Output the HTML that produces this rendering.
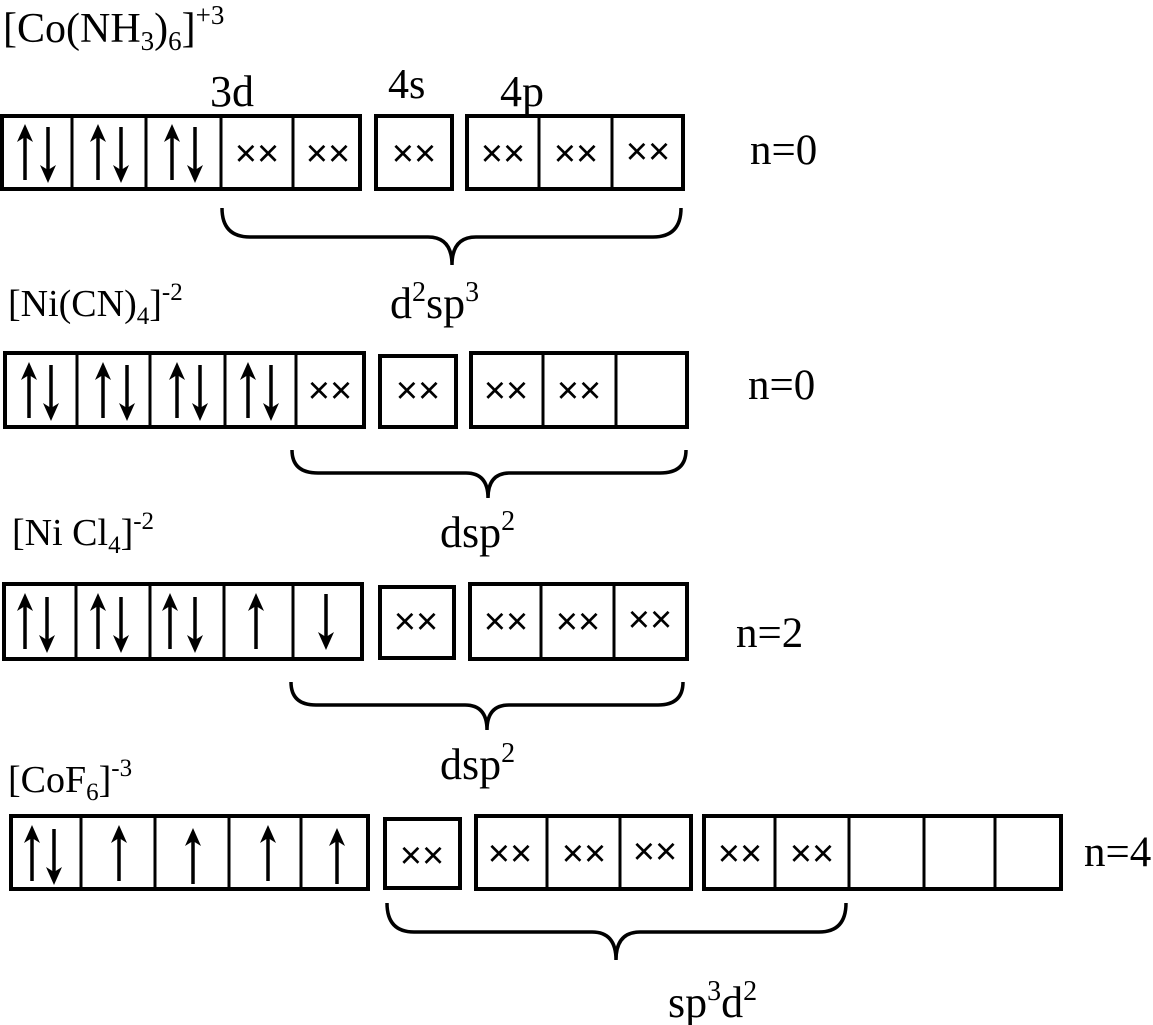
<!DOCTYPE html>
<html><head><meta charset="utf-8"><style>
html,body{margin:0;padding:0;background:#fff}
svg{display:block}
text{font-family:"Liberation Serif",serif;fill:#000}
.x{font-family:"Liberation Sans",sans-serif;font-size:38px;text-anchor:middle;dominant-baseline:central}
.b{fill:none;stroke:#000;stroke-width:4}
.d{stroke:#000;stroke-width:3}
.a{fill:none;stroke:#000;stroke-width:3.5}
.h{fill:#000;stroke:none}
.br{fill:none;stroke:#000;stroke-width:3.5}
</style></head><body>
<svg width="1153" height="1025" viewBox="0 0 1153 1025" xmlns="http://www.w3.org/2000/svg">
<defs>
<g id="up"><line x1="0" y1="56" x2="0" y2="8" class="a"/><polygon points="0,0 -8,18 0,13 8,18" class="h"/></g>
<g id="dn"><line x1="0" y1="0" x2="0" y2="48" class="a"/><polygon points="0,56 -8,38 0,43 8,38" class="h"/></g>
</defs>

<!-- Row 1 -->
<text x="3" y="42" font-size="42">[Co(NH<tspan font-size="27" dy="8">3</tspan><tspan dy="-8">)</tspan><tspan font-size="27" dy="8">6</tspan><tspan dy="-8">]</tspan><tspan font-size="27" dy="-18">+3</tspan></text>
<text x="210" y="106" font-size="44">3d</text>
<text x="388" y="98" font-size="42">4s</text>
<text x="500" y="106" font-size="44">4p</text>
<rect x="2" y="116" width="358" height="73" class="b"/>
<line x1="72" y1="116" x2="72" y2="189" class="d"/><line x1="146" y1="116" x2="146" y2="189" class="d"/><line x1="221" y1="116" x2="221" y2="189" class="d"/><line x1="293" y1="116" x2="293" y2="189" class="d"/>
<rect x="376" y="116" width="76" height="73" class="b"/>
<rect x="467" y="116" width="216" height="73" class="b"/>
<line x1="539" y1="116" x2="539" y2="189" class="d"/><line x1="612" y1="116" x2="612" y2="189" class="d"/>
<use href="#up" x="25" y="124"/><use href="#dn" x="48" y="127"/>
<use href="#up" x="98" y="124"/><use href="#dn" x="121" y="127"/>
<use href="#up" x="172" y="124"/><use href="#dn" x="195" y="127"/>
<text class="x" x="257" y="154">××</text><text class="x" x="328" y="154">××</text>
<text class="x" x="414" y="154">××</text>
<text class="x" x="503" y="154">××</text><text class="x" x="576" y="154">××</text><text class="x" x="648" y="152">××</text>
<text x="750" y="164" font-size="43">n=0</text>
<path class="br" d="M222 208 Q222 237 250 237 L428 237 Q452 237 452 265 Q452 237 476 237 L653 237 Q681 237 681 208"/>

<!-- Row 2 -->
<text x="8" y="316" font-size="38">[Ni(CN)<tspan font-size="25" dy="8">4</tspan><tspan dy="-8">]</tspan><tspan font-size="25" dy="-16">-2</tspan></text>
<text x="390" y="318" font-size="44">d<tspan font-size="28" dy="-17">2</tspan><tspan dy="17">sp</tspan><tspan font-size="28" dy="-17">3</tspan></text>
<rect x="5" y="353" width="359" height="74" class="b"/>
<line x1="77" y1="353" x2="77" y2="427" class="d"/><line x1="150" y1="353" x2="150" y2="427" class="d"/><line x1="225" y1="353" x2="225" y2="427" class="d"/><line x1="296" y1="353" x2="296" y2="427" class="d"/>
<rect x="380" y="356" width="76" height="71" class="b"/>
<rect x="471" y="353" width="216" height="74" class="b"/>
<line x1="543" y1="353" x2="543" y2="427" class="d"/><line x1="616" y1="353" x2="616" y2="427" class="d"/>
<use href="#up" x="29" y="362"/><use href="#dn" x="51" y="365"/>
<use href="#up" x="103" y="362"/><use href="#dn" x="127" y="365"/>
<use href="#up" x="177" y="362"/><use href="#dn" x="200" y="365"/>
<use href="#up" x="248" y="362"/><use href="#dn" x="271" y="365"/>
<text class="x" x="330" y="391">××</text>
<text class="x" x="418" y="391">××</text>
<text class="x" x="506" y="391">××</text><text class="x" x="579" y="391">××</text>
<text x="748" y="399" font-size="43">n=0</text>
<path class="br" d="M292 450 Q292 473 318 473 L466 473 Q488 473 488 498 Q488 473 510 473 L660 473 Q686 473 686 450"/>

<!-- Row 3 -->
<text x="440" y="547" font-size="44">dsp<tspan font-size="28" dy="-17">2</tspan></text>
<text x="12" y="545" font-size="38">[Ni Cl<tspan font-size="25" dy="8">4</tspan><tspan dy="-8">]</tspan><tspan font-size="25" dy="-16">-2</tspan></text>
<rect x="4" y="584" width="358" height="75" class="b"/>
<line x1="76" y1="584" x2="76" y2="659" class="d"/><line x1="150" y1="584" x2="150" y2="659" class="d"/><line x1="224" y1="584" x2="224" y2="659" class="d"/><line x1="293" y1="584" x2="293" y2="659" class="d"/>
<rect x="380" y="587" width="74" height="71" class="b"/>
<rect x="470" y="584" width="217" height="75" class="b"/>
<line x1="541" y1="584" x2="541" y2="659" class="d"/><line x1="614" y1="584" x2="614" y2="659" class="d"/>
<use href="#up" x="25" y="593"/><use href="#dn" x="47" y="597"/>
<use href="#up" x="98" y="593"/><use href="#dn" x="121" y="597"/>
<use href="#up" x="170" y="593"/><use href="#dn" x="195" y="597"/>
<use href="#up" x="256" y="593"/>
<use href="#dn" x="326" y="594"/>
<text class="x" x="416" y="622">××</text>
<text class="x" x="506" y="622">××</text><text class="x" x="578" y="622">××</text><text class="x" x="650" y="620">××</text>
<text x="736" y="647" font-size="43">n=2</text>
<path class="br" d="M291 682 Q291 705 316 705 L465 705 Q487 705 487 730 Q487 705 509 705 L658 705 Q683 705 683 682"/>

<!-- Row 4 -->
<text x="440" y="779" font-size="44">dsp<tspan font-size="28" dy="-17">2</tspan></text>
<text x="8" y="792" font-size="38">[CoF<tspan font-size="25" dy="8">6</tspan><tspan dy="-8">]</tspan><tspan font-size="25" dy="-16">-3</tspan></text>
<rect x="11" y="816" width="357" height="73" class="b"/>
<line x1="81" y1="816" x2="81" y2="889" class="d"/><line x1="155" y1="816" x2="155" y2="889" class="d"/><line x1="229" y1="816" x2="229" y2="889" class="d"/><line x1="301" y1="816" x2="301" y2="889" class="d"/>
<rect x="385" y="819" width="75" height="69" class="b"/>
<rect x="476" y="816" width="215" height="73" class="b"/>
<line x1="547" y1="816" x2="547" y2="889" class="d"/><line x1="620" y1="816" x2="620" y2="889" class="d"/>
<rect x="704" y="816" width="357" height="73" class="b"/>
<line x1="775" y1="816" x2="775" y2="889" class="d"/><line x1="849" y1="816" x2="849" y2="889" class="d"/><line x1="924" y1="816" x2="924" y2="889" class="d"/><line x1="995" y1="816" x2="995" y2="889" class="d"/>
<use href="#up" x="32" y="825"/><use href="#dn" x="54" y="829"/>
<use href="#up" x="119" y="825"/>
<use href="#up" x="193" y="828"/>
<use href="#up" x="268" y="825"/>
<use href="#up" x="337" y="828"/>
<text class="x" x="422" y="856">××</text>
<text class="x" x="510" y="854">××</text><text class="x" x="584" y="854">××</text><text class="x" x="655" y="852">××</text>
<text class="x" x="740" y="854">××</text><text class="x" x="812" y="854">××</text>
<text x="1084" y="866" font-size="43">n=4</text>
<path class="br" d="M387 903 Q387 932 414 932 L592 932 Q616 932 616 960 Q616 932 640 932 L819 932 Q846 932 846 903"/>
<text x="668" y="1017" font-size="44">sp<tspan font-size="28" dy="-17">3</tspan><tspan dy="17">d</tspan><tspan font-size="28" dy="-17">2</tspan></text>
</svg>
</body></html>
